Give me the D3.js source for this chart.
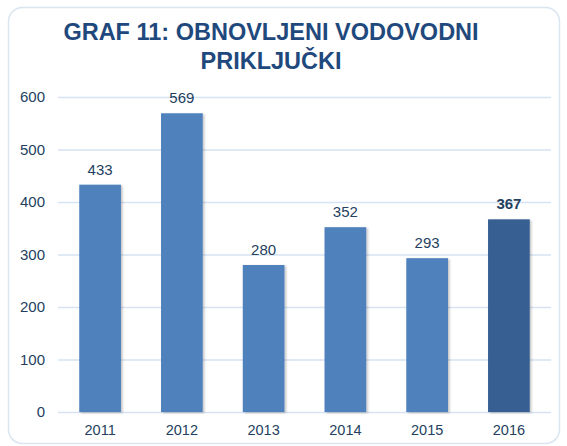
<!DOCTYPE html>
<html lang="hr">
<head>
  <meta charset="UTF-8">
  <title>Graf 11</title>
  <script src="https://cdn.jsdelivr.net/npm/d3@7"></script>
  <style>
    body { margin: 0; background: #fff; }
    svg text { font-family: "Liberation Sans", Arial, sans-serif; }
  </style>
</head>
<body>
<script>
  const years = ["2011", "2012", "2013", "2014", "2015", "2016"];
  const values = [433, 569, 280, 352, 293, 367];
  const yTicks = [0, 100, 200, 300, 400, 500, 600];
  const titleLines = ["GRAF 11: OBNOVLJENI VODOVODNI", "PRIKLJUČKI"];

  const w = 567, h = 446;
  const svg = d3.select("body").append("svg").attr("width", w).attr("height", h);

  // drop shadow for bars
  const defs = svg.append("defs");
  const f = defs.append("filter").attr("id", "sh").attr("x", "-10%").attr("y", "-10%").attr("width", "130%").attr("height", "130%");
  f.append("feDropShadow").attr("dx", 1.5).attr("dy", 1).attr("stdDeviation", 1.2)
    .attr("flood-color", "#000").attr("flood-opacity", 0.25);

  // outer frame
  svg.append("rect")
    .attr("x", 8.5).attr("y", 7.5).attr("width", 551).attr("height", 436)
    .attr("rx", 14).attr("fill", "#fff").attr("stroke", "#dbe5f1").attr("stroke-width", 1.5);

  svg.selectAll(".title").data(titleLines).enter().append("text")
    .attr("x", 271).attr("y", (d, i) => 40 + i * 28.5)
    .attr("text-anchor", "middle")
    .attr("font-size", 23.5).attr("font-weight", "bold")
    .attr("fill", "#1f497d")
    .text(d => d);

  const x = d3.scaleBand().domain(years).range([58, 551]).paddingInner(0.49).paddingOuter(0.26);
  const y = d3.scaleLinear().domain([0, 600]).range([412, 97]);

  // gridlines + y labels
  const yAxis = d3.axisLeft(y).tickValues(yTicks).tickSize(-(551 - 58)).tickPadding(13);
  const gy = svg.append("g").attr("transform", "translate(58,0)").call(yAxis);
  gy.select(".domain").remove();
  gy.selectAll("line").attr("stroke", "#d6e3f3").attr("stroke-width", 1.5);
  gy.selectAll("text").attr("font-size", 15).attr("fill", "#243f60");

  // x labels
  const xAxis = d3.axisBottom(x).tickSize(0).tickPadding(13);
  const gx = svg.append("g").attr("transform", "translate(0,412)").call(xAxis);
  gx.select(".domain").remove();
  gx.selectAll("text").attr("font-size", 14.5).attr("fill", "#243f60");

  svg.selectAll(".bar").data(values).enter().append("rect")
    .attr("x", (d, i) => x(years[i]))
    .attr("y", d => y(d))
    .attr("width", x.bandwidth())
    .attr("height", d => y(0) - y(d))
    .attr("fill", (d, i) => i === years.length - 1 ? "#375f92" : "#4f81bd")
    .attr("filter", "url(#sh)");

  svg.selectAll(".val").data(values).enter().append("text")
    .attr("x", (d, i) => x(years[i]) + x.bandwidth() / 2)
    .attr("y", d => y(d) - 10)
    .attr("text-anchor", "middle")
    .attr("font-size", 15)
    .attr("font-weight", (d, i) => i === years.length - 1 ? "bold" : "normal")
    .attr("fill", "#243f60")
    .text(d => d);
</script>
</body>
</html>
